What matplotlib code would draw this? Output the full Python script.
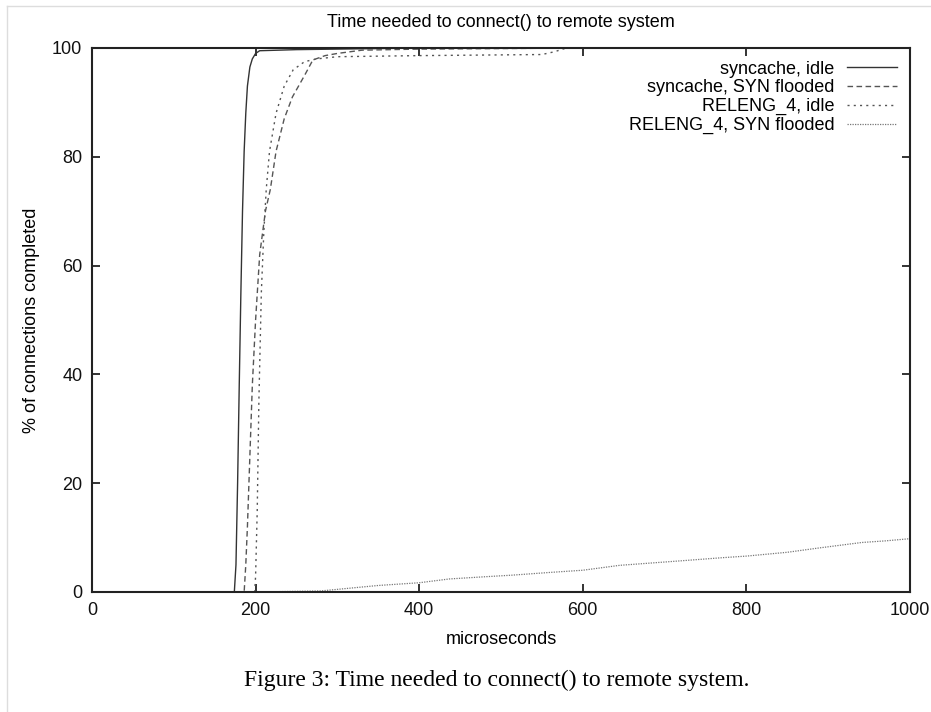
import matplotlib
matplotlib.use("Agg")
import matplotlib.pyplot as plt
from matplotlib.lines import Line2D
import numpy as np

# ---- data ----
syn_idle_x = [0, 174, 176, 178, 180, 182, 184, 186, 188, 190, 193, 196, 200, 205, 250, 300, 400, 1000]
syn_idle_y = [0, 0, 5, 20, 38, 55, 70, 81, 88, 93, 96.5, 98, 99, 99.5, 99.7, 99.8, 100, 100]

syn_flood_x = [0, 186, 188, 190, 193, 196, 200, 205, 212, 218, 225, 235, 245, 260, 270, 285, 300, 330, 400, 500, 600, 1000]
syn_flood_y = [0, 0, 5, 12, 25, 38, 50, 62, 70, 74, 81, 87, 91, 95, 97.8, 98.6, 99, 99.6, 99.8, 99.9, 100, 100]

rel_idle_x = [0, 199, 200, 202, 204, 207, 210, 213, 217, 225, 235, 246, 260, 275, 300, 400, 550, 565, 580, 1000]
rel_idle_y = [0, 0, 3, 15, 35, 55, 66, 74, 81, 88, 93, 96, 97.5, 98, 98.4, 98.6, 98.8, 99.3, 100, 100]

rel_flood_x = [0, 200, 280, 315, 350, 400, 437, 480, 514, 560, 600, 645, 690, 726, 770, 800, 850, 889, 941, 970, 1000]
rel_flood_y = [0, 0, 0.2, 0.7, 1.2, 1.7, 2.4, 2.8, 3.1, 3.6, 4.0, 4.9, 5.4, 5.8, 6.3, 6.6, 7.3, 8.1, 9.1, 9.4, 9.8]

labels = ["syncache, idle", "syncache, SYN flooded", "RELENG_4, idle", "RELENG_4, SYN flooded"]
x_ticks = [0, 200, 400, 600, 800, 1000]
y_ticks = [0, 20, 40, 60, 80, 100]

title = "Time needed to connect() to remote system"
xlabel = "microseconds"
ylabel = "% of connections completed"
caption = "Figure 3: Time needed to connect() to remote system."

plt.rcParams['font.family'] = ['Liberation Sans', 'DejaVu Sans']

fig = plt.figure(figsize=(9.31, 7.12), dpi=100)
ax = fig.add_axes([92/931, 1-592/712, (910-92)/931, (592-48)/712])

ax.plot(syn_idle_x, syn_idle_y, color="#333333", lw=1.0, ls="-", label=labels[0])
ax.plot(syn_flood_x, syn_flood_y, color="#555555", lw=1.0, ls=(0, (4, 2.5)), label=labels[1])
ax.plot(rel_idle_x, rel_idle_y, color="#555555", lw=1.0, ls=(0, (1.5, 3)), label=labels[2])
ax.plot(rel_flood_x, rel_flood_y, color="#777777", lw=0.9, ls=(0, (1, 1)), label=labels[3])

ax.set_xlim(0, 1000)
ax.set_ylim(0, 100)
ax.set_xticks(x_ticks)
ax.set_yticks(y_ticks)
ax.tick_params(direction="in", length=6, width=1.2, top=True, right=True,
               labelsize=13, pad=7, colors="#111111")
for s in ax.spines.values():
    s.set_linewidth(1.5)
    s.set_color("#222222")

ax.set_title(title, fontsize=13, pad=15)
ax.set_xlabel(xlabel, fontsize=13, labelpad=9)
ax.set_ylabel(ylabel, fontsize=13, labelpad=9)

ax.legend(loc="upper right", markerfirst=False, frameon=False, fontsize=13,
          handlelength=2.8, handletextpad=0.7, labelspacing=0.1,
          borderaxespad=0.5, borderpad=0.2)

fig.text(497/931, 1-680/712, caption, ha="center", va="center",
         fontsize=17, family="Liberation Serif")

# faint page border
fig.add_artist(Line2D([7/931, 7/931], [0, 1-6/712], color="#dddddd", lw=1))
fig.add_artist(Line2D([7/931, 1], [1-6/712, 1-6/712], color="#dddddd", lw=1))

fig.savefig("out.png", dpi=100)
